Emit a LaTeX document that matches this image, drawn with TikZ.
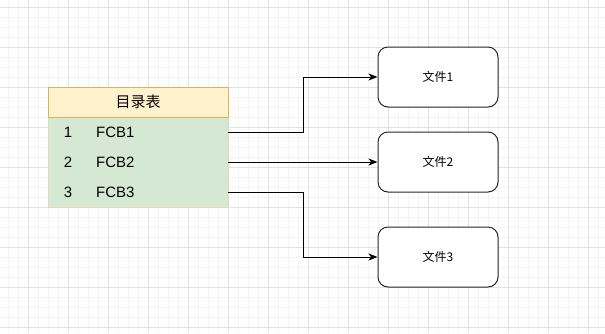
\documentclass[tikz,border=0pt]{standalone}
\usepackage{fontspec}
\setmainfont{Liberation Sans}
\newfontfamily\cjk{Noto Sans CJK SC}
\usepackage{xcolor}
\usetikzlibrary{arrows.meta,positioning}

\definecolor{hdrfill}{HTML}{FFF2CC}
\definecolor{hdrline}{HTML}{D6B656}
\definecolor{bodyfill}{HTML}{D5E8D4}
\definecolor{bodyline}{HTML}{DEDDB0}
\definecolor{gridmajor}{HTML}{E2E2E2}
\definecolor{gridminor}{HTML}{F4F4F4}

\tikzset{
  cell/.style={minimum width=180pt, minimum height=30pt, inner sep=0pt},
  rowtext/.style={inner sep=0pt, font=\fontsize{15}{18}\selectfont},
  filebox/.style={draw=black!85, line width=1pt, rounded corners=10pt, fill=white,
    minimum width=120pt, minimum height=60pt, font=\cjk\fontsize{12}{14}\selectfont},
  link/.style={draw=black, line width=1pt, -{Stealth[length=9pt,width=7pt,inset=2.5pt]}},
}

\begin{document}
\begin{tikzpicture}[x=1pt, y=-1pt]
  \useasboundingbox (0,0) rectangle (605,333);
  \fill[white] (0,0) rectangle (605,333);
  % grid
  \foreach \gx in {8,18,...,598} \draw[gridminor, line width=1pt] (\gx,0) -- (\gx,333);
  \foreach \gy in {7,17,...,327} \draw[gridminor, line width=1pt] (0,\gy) -- (605,\gy);
  \foreach \gx in {28,68,...,588} \draw[gridmajor, line width=1pt] (\gx,0) -- (\gx,333);
  \foreach \gy in {7,47,...,327} \draw[gridmajor, line width=1pt] (0,\gy) -- (605,\gy);

  % table
  \node[cell, minimum height=90pt, fill=bodyfill, draw=bodyline, line width=1pt] (body) at (138,162) {};
  \node[cell, fill=hdrfill, draw=hdrline, line width=1pt, font=\cjk\fontsize{15}{18}\selectfont] (hdr) at (138,102) {目录表};
  \node[cell] (row1) at (138,132) {};
  \node[cell] (row2) at (138,162) {};
  \node[cell] (row3) at (138,192) {};
  \node[rowtext] (num1) at (68,132) {1};
  \node[rowtext] (num2) at (68,162) {2};
  \node[rowtext] (num3) at (68,192) {3};
  \node[rowtext, anchor=west] (fcb1) at (96,132) {FCB1};
  \node[rowtext, anchor=west] (fcb2) at (96,162) {FCB2};
  \node[rowtext, anchor=west] (fcb3) at (96,192) {FCB3};

  % files
  \node[filebox] (file1) at (438,77)  {文件1};
  \node[filebox] (file2) at (438,162) {文件2};
  \node[filebox] (file3) at (438,257) {文件3};

  \draw[link] (row1.east) -- ++(75,0) |- (file1.west);
  \draw[link] (row2.east) -- (file2.west);
  \draw[link] (row3.east) -- ++(75,0) |- (file3.west);
\end{tikzpicture}
\end{document}
